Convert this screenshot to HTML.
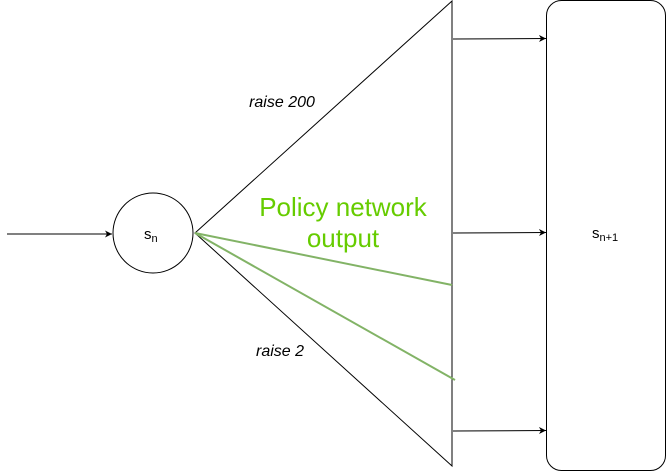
<!DOCTYPE html>
<html><head><style>body{margin:0;background:#fff}</style></head><body>
<svg width="667" height="471" xmlns="http://www.w3.org/2000/svg" style="display:block">
<defs><marker id="a" markerWidth="8" markerHeight="8" refX="7" refY="4" orient="auto" markerUnits="userSpaceOnUse"><path d="M0,0.5 L7,4 L0,7.5 L2,4 Z" fill="#000"/></marker></defs>
<line x1="7" y1="234" x2="112" y2="234" stroke="#000" stroke-width="1" marker-end="url(#a)"/>
<circle cx="153" cy="233" r="40" fill="#fff" stroke="#000"/>
<text x="144" y="239" font-family="Liberation Sans, sans-serif" font-size="15">s<tspan font-size="11" dy="3">n</tspan></text>
<path d="M195,233 L452,1 L452,466 Z" fill="none" stroke="#000"/>
<line x1="195" y1="233" x2="452" y2="285" stroke="#82b366" stroke-width="2"/>
<line x1="195" y1="233" x2="455" y2="380" stroke="#82b366" stroke-width="2"/>
<text x="282" y="107" font-family="Liberation Sans, sans-serif" font-size="16" font-style="italic" text-anchor="middle">raise 200</text>
<text x="280" y="356" font-family="Liberation Sans, sans-serif" font-size="16" font-style="italic" text-anchor="middle">raise 2</text>
<text x="343" y="216" font-family="Liberation Sans, sans-serif" font-size="26" fill="#66cc00" text-anchor="middle">Policy network</text>
<text x="343" y="247" font-family="Liberation Sans, sans-serif" font-size="26" fill="#66cc00" text-anchor="middle">output</text>
<line x1="453" y1="39" x2="546" y2="38.5" stroke="#000" marker-end="url(#a)"/>
<line x1="453" y1="233" x2="546" y2="232.5" stroke="#000" marker-end="url(#a)"/>
<line x1="453" y1="431" x2="546" y2="430.5" stroke="#000" marker-end="url(#a)"/>
<rect x="546.5" y="0.5" width="119" height="470" rx="15" fill="#fff" stroke="#000"/>
<text x="592" y="238" font-family="Liberation Sans, sans-serif" font-size="15">s<tspan font-size="11" dy="3">n+1</tspan></text>
</svg>
</body></html>
